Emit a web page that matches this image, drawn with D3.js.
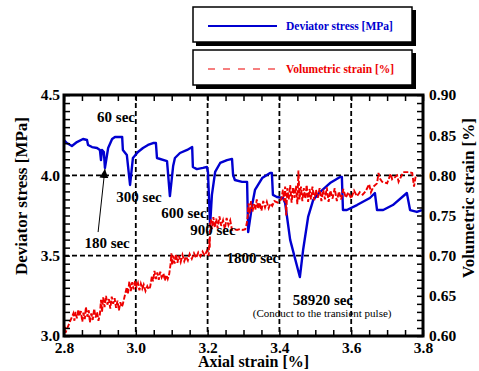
<!DOCTYPE html>
<html><head><meta charset="utf-8">
<script src="https://cdn.jsdelivr.net/npm/d3@7"></script>
<style>
body{margin:0;background:#fff}
svg text{font-family:"Liberation Serif","Times New Roman",serif;font-weight:bold;}
</style>
</head><body><svg id="c" width="479" height="371"></svg>
<script>
// ---------- data ----------
const xTickLabels=[2.8,3.0,3.2,3.4,3.6,3.8];
const yLeftTickLabels=[3.0,3.5,4.0,4.5];
const yRightTickLabels=[0.60,0.65,0.70,0.75,0.80,0.85,0.90];
const gridX=[3.0,3.2,3.4,3.6];
const gridY=[3.5,4.0];

// Deviator stress [MPa] vs axial strain [%]
const stressX=[2.800,2.808,2.822,2.836,2.853,2.864,2.867,2.878,2.892,2.900,2.903,2.906,2.911,2.914,2.923,2.934,2.942,2.962,2.964,2.975,2.984,2.992,3.006,3.020,3.034,3.048,3.056,3.059,3.087,3.095,3.104,3.109,3.123,3.143,3.157,3.159,3.170,3.187,3.198,3.201,3.207,3.212,3.221,3.235,3.254,3.268,3.271,3.276,3.296,3.310,3.313,3.324,3.332,3.352,3.374,3.379,3.382,3.393,3.410,3.416,3.430,3.457,3.466,3.480,3.494,3.513,3.541,3.569,3.574,3.577,3.588,3.616,3.652,3.666,3.672,3.689,3.716,3.755,3.764,3.783,3.797];
const stressY=[4.220,4.201,4.183,4.207,4.226,4.220,4.189,4.176,4.170,4.158,4.095,4.158,4.145,4.046,4.170,4.226,4.239,4.239,4.158,4.127,3.940,4.108,4.145,4.170,4.189,4.201,4.201,4.108,4.089,3.871,4.058,4.108,4.139,4.158,4.176,4.052,4.039,4.046,4.052,4.021,3.691,3.878,4.021,4.077,4.095,4.102,4.002,3.971,3.959,3.959,3.647,3.815,3.909,3.983,4.015,4.015,3.878,3.865,3.859,3.828,3.598,3.367,3.535,3.741,3.846,3.896,3.952,3.990,3.990,3.784,3.784,3.815,3.859,3.890,3.784,3.784,3.815,3.890,3.784,3.772,3.784];

// Volumetric strain [%] vs axial strain [%]
const volX=[2.800,2.801,2.802,2.803,2.804,
2.826,2.829,2.832,2.836,2.840,2.843,2.847,2.851,2.854,2.858,2.861,2.865,2.869,2.872,2.876,2.880,2.884,2.888,2.892,2.896,2.900,
2.903,2.906,2.909,2.913,2.917,2.921,2.925,2.929,2.933,2.937,2.941,2.945,2.949,2.953,2.957,2.961,2.964,
2.975,2.978,2.982,2.986,2.990,2.994,2.998,3.002,3.006,3.010,3.014,3.018,3.022,3.027,3.032,3.036,3.040,
3.045,3.048,3.052,3.056,3.060,3.064,3.068,3.072,3.077,3.081,3.085,3.089,3.093,
3.097,3.099,3.101,3.104,3.108,3.112,3.116,3.120,3.125,3.130,3.135,3.140,3.145,3.150,3.156,3.162,3.168,3.174,3.180,3.186,3.192,
3.198,3.203,3.205,3.206,3.207,
3.209,3.212,3.216,3.220,3.224,3.228,3.233,3.238,3.243,3.248,3.253,3.258,3.263,3.268,3.274,3.282,3.290,3.298,3.305,3.309,
3.312,3.314,3.317,3.321,3.325,3.329,3.333,3.337,3.341,3.345,3.350,3.355,3.360,3.365,3.370,3.375,3.380,
3.386,3.395,3.405,3.410,3.413,3.416,3.419,3.422,3.426,3.430,3.434,3.438,3.442,3.446,3.450,3.453,3.456,3.460,3.464,3.468,3.472,3.476,3.480,3.484,3.488,3.492,3.497,3.502,
3.507,3.512,3.517,3.522,3.527,3.532,3.537,3.542,3.548,3.554,3.560,3.566,3.572,3.578,3.585,3.592,3.600,3.608,3.616,3.624,3.632,
3.640,3.650,3.655,3.662,
3.672,3.676,3.680,3.686,3.700,3.710,3.714,3.728,3.732,3.745,3.760,3.770,3.775,3.780];
const volY=[0.603,0.613,0.606,0.611,0.604,
0.628,0.619,0.630,0.622,0.633,0.625,0.631,0.618,0.629,0.621,0.636,0.624,0.632,0.617,0.628,0.620,0.634,0.623,0.630,0.619,0.627,
0.645,0.630,0.648,0.636,0.650,0.639,0.646,0.634,0.649,0.640,0.647,0.635,0.644,0.632,0.642,0.636,0.640,
0.661,0.652,0.668,0.656,0.667,0.658,0.669,0.661,0.666,0.657,0.665,0.659,0.664,0.656,0.662,0.658,0.661,
0.675,0.668,0.681,0.671,0.679,0.670,0.680,0.673,0.678,0.669,0.676,0.671,0.677,
0.690,0.703,0.688,0.700,0.690,0.702,0.691,0.700,0.692,0.701,0.693,0.699,0.694,0.702,0.696,0.703,0.697,0.704,0.699,0.705,0.700,
0.706,0.700,0.722,0.710,0.740,
0.745,0.733,0.748,0.735,0.746,0.734,0.749,0.737,0.744,0.733,0.747,0.738,0.744,0.732,0.733,0.732,0.733,0.732,0.733,0.740,
0.750,0.765,0.752,0.768,0.755,0.764,0.757,0.770,0.758,0.766,0.756,0.768,0.760,0.767,0.759,0.765,0.762,
0.768,0.766,0.770,0.782,0.768,0.786,0.750,0.784,0.770,0.788,0.766,0.785,0.772,0.787,0.764,0.806,0.770,0.786,0.768,0.784,0.771,0.788,0.767,0.783,0.770,0.786,0.769,0.782,
0.772,0.784,0.768,0.782,0.770,0.785,0.767,0.781,0.771,0.784,0.768,0.780,0.770,0.783,0.772,0.779,0.771,0.781,0.774,0.779,0.776,
0.780,0.789,0.779,0.786,
0.790,0.803,0.796,0.792,0.790,0.802,0.795,0.800,0.792,0.804,0.804,0.803,0.786,0.800];

// annotations (data coordinates, left axis)
const noteText=["60 sec","180 sec","300 sec","600 sec","900 sec","1800 sec","58920 sec"];
const noteX=[2.945,2.920,3.009,3.134,3.215,3.326,3.521];
const noteY=[4.363,3.579,3.865,3.766,3.660,3.486,3.224];
const subNote="(Conduct to the transient pulse)";
const subNoteXY=[3.519,3.143];
const arrowFrom=[2.895,3.647], arrowTo=[2.914,4.039];

const legendLabels=["Deviator stress [MPa]","Volumetric strain [%]"];
const legendColors=["#0000d0","#ee0000"];

// ---------- drawing ----------
const L=64,R=423,T=95,B=336;
const x=d3.scaleLinear().domain([2.8,3.8]).range([L,R]);
const yL=d3.scaleLinear().domain([3.0,4.5]).range([B,T]);
const yR=d3.scaleLinear().domain([0.6,0.9]).range([B,T]);
const svg=d3.select('#c');

// grid
svg.append('g').selectAll('line').data(gridX).join('line')
 .attr('x1',d=>x(d)).attr('x2',d=>x(d)).attr('y1',T).attr('y2',B)
 .attr('stroke','#000').attr('stroke-width',1.8).attr('stroke-dasharray','5,3');
svg.append('g').selectAll('line').data(gridY).join('line')
 .attr('x1',L).attr('x2',R).attr('y1',d=>yL(d)).attr('y2',d=>yL(d))
 .attr('stroke','#000').attr('stroke-width',1.8).attr('stroke-dasharray','5,3');

// blue stress
const stressPts=stressX.map((v,i)=>[v,stressY[i]]);
svg.append('path').datum(stressPts)
 .attr('d',d3.line().x(d=>x(d[0])).y(d=>yL(d[1])))
 .attr('fill','none').attr('stroke',legendColors[0]).attr('stroke-width',2.4).attr('stroke-linejoin','round');

// red vol strain
const volPts=volX.map((v,i)=>[v,volY[i]]);
svg.append('path').datum(volPts)
 .attr('d',d3.line().x(d=>x(d[0])).y(d=>yR(d[1])))
 .attr('fill','none').attr('stroke',legendColors[1]).attr('stroke-width',1.9).attr('stroke-dasharray','5,2');

// annotations
svg.append('g').selectAll('text').data(noteText).join('text')
 .attr('x',(d,i)=>x(noteX[i])).attr('y',(d,i)=>yL(noteY[i])).attr('dy','0.35em')
 .attr('text-anchor','middle').attr('font-size',15).text(d=>d);
svg.append('text').attr('x',x(subNoteXY[0])).attr('y',yL(subNoteXY[1])).attr('dy','0.35em')
 .attr('text-anchor','middle').attr('font-size',11).style('font-weight','normal').text(subNote);
svg.append('defs').append('marker').attr('id','ah').attr('viewBox','0 0 10 10')
 .attr('refX',10).attr('refY',5).attr('markerWidth',9).attr('markerHeight',9).attr('orient','auto').attr('markerUnits','userSpaceOnUse')
 .append('path').attr('d','M0,0L10,5L0,10z').attr('fill','#000');
svg.append('line').attr('x1',x(arrowFrom[0])).attr('y1',yL(arrowFrom[1]))
 .attr('x2',x(arrowTo[0])).attr('y2',yL(arrowTo[1]))
 .attr('stroke','#000').attr('stroke-width',1).attr('marker-end','url(#ah)');

// ticks (inward)
const minorX=d3.range(0,21).map(i=>2.8+i*0.05);
const minorYL=d3.range(0,31).map(i=>3.0+i*0.05);
const tick=(g)=>g.call(s=>s.select('.domain').remove()).call(s=>s.selectAll('line').attr('stroke-width',1.5));
svg.append('g').attr('transform',`translate(0,${B})`).call(d3.axisBottom(x).tickValues(minorX).tickSize(-6).tickFormat('')).call(tick);
svg.append('g').attr('transform',`translate(0,${T})`).call(d3.axisTop(x).tickValues(minorX).tickSize(-6).tickFormat('')).call(tick);
svg.append('g').attr('transform',`translate(${L},0)`).call(d3.axisLeft(yL).tickValues(minorYL).tickSize(-6).tickFormat('')).call(tick);
svg.append('g').attr('transform',`translate(${R},0)`).call(d3.axisRight(yL).tickValues(minorYL).tickSize(-6).tickFormat('')).call(tick);

// tick labels
const lab=(g)=>g.call(s=>s.select('.domain').remove()).call(s=>s.selectAll('text').attr('font-size',15.5).attr('fill','#000').attr('font-family',null));
svg.append('g').attr('transform',`translate(0,${B})`).call(d3.axisBottom(x).tickValues(xTickLabels).tickSize(0).tickPadding(6).tickFormat(d3.format('.1f'))).call(lab);
svg.append('g').attr('transform',`translate(${L-1},0)`).call(d3.axisLeft(yL).tickValues(yLeftTickLabels).tickSize(0).tickPadding(3).tickFormat(d3.format('.1f'))).call(lab);
svg.append('g').attr('transform',`translate(${R},0)`).call(d3.axisRight(yR).tickValues(yRightTickLabels).tickSize(0).tickPadding(6).tickFormat(d3.format('.2f'))).call(lab);

// frame
svg.append('rect').attr('x',L).attr('y',T).attr('width',R-L).attr('height',B-T)
 .attr('fill','none').attr('stroke','#000').attr('stroke-width',3);

// axis titles
svg.append('text').attr('x',(L+R)/2+10).attr('y',367).attr('text-anchor','middle').attr('font-size',16).text('Axial strain [%]');
svg.append('text').attr('transform','translate(27,196) rotate(-90)').attr('text-anchor','middle').attr('font-size',17).text('Deviator stress [MPa]');
svg.append('text').attr('transform','translate(474,198) rotate(-90)').attr('text-anchor','middle').attr('font-size',17).text('Volumetric strain [%]');

// legend
const legTop=[7,50];
const lg=svg.append('g').selectAll('g').data(legendLabels).join('g').attr('transform',(d,i)=>`translate(193,${legTop[i]})`);
lg.append('rect').attr('x',3).attr('y',3).attr('width',220).attr('height',36).attr('fill','#000');
lg.append('rect').attr('x',0).attr('y',0).attr('width',219).attr('height',35).attr('fill','#fff').attr('stroke','#000').attr('stroke-width',1.5);
lg.append('line').attr('x1',15).attr('x2',84).attr('y1',19).attr('y2',19)
 .attr('stroke',(d,i)=>legendColors[i]).attr('stroke-width',(d,i)=>i?1.2:2.2).attr('stroke-dasharray',(d,i)=>i?'7,8':null);
lg.append('text').attr('x',93).attr('y',19).attr('dy','0.35em').attr('font-size',11.5).attr('fill',(d,i)=>legendColors[i]).text(d=>d);
</script>
</body></html>
